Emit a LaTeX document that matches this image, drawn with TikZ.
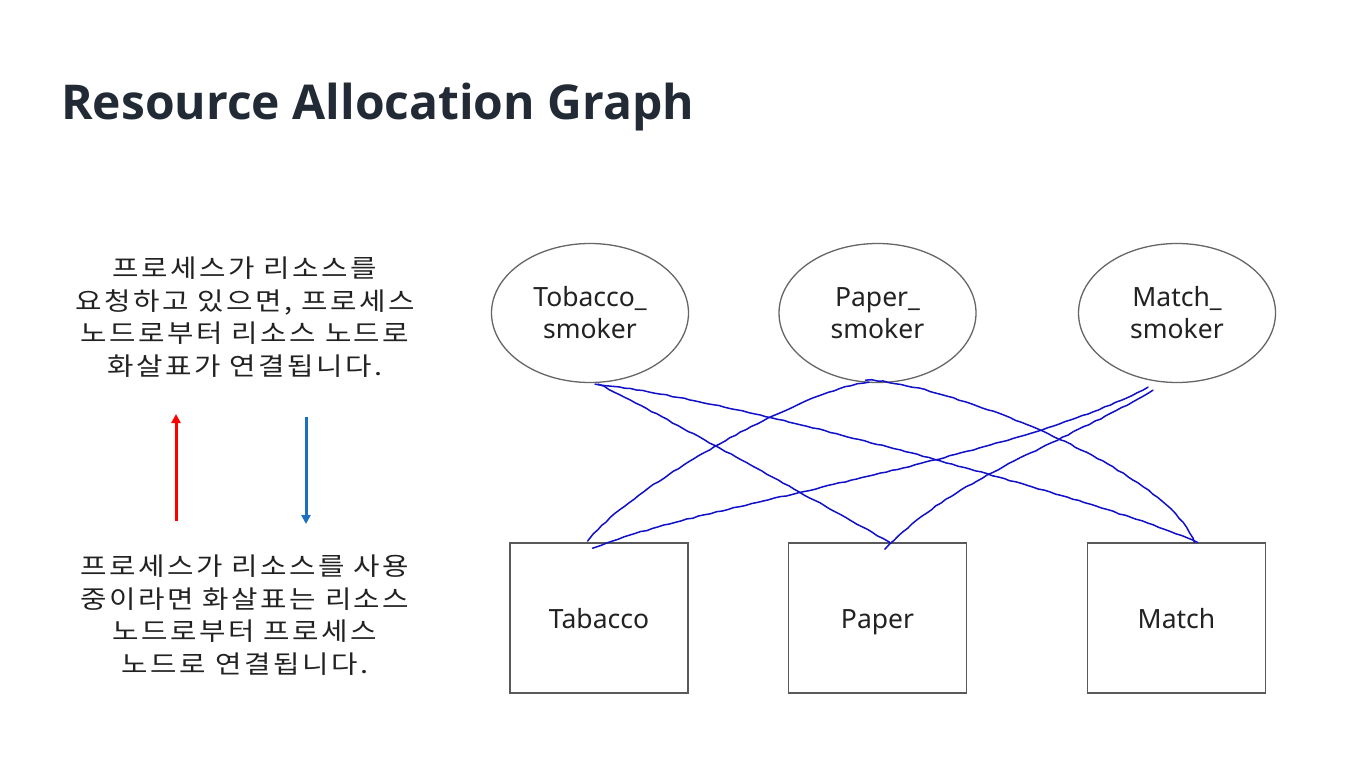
\documentclass[tikz,border=0pt]{standalone}
\usepackage{fontspec}
\setmainfont{Noto Sans}
\newfontfamily\titlefont{Open Sans}
\newfontfamily\kr{Noto Sans CJK KR}[FakeStretch=1.15, LetterSpace=10]
\usetikzlibrary{shapes.geometric,arrows.meta,calc,decorations.pathmorphing}

\definecolor{titlecol}{HTML}{222A35}
\definecolor{txtcol}{HTML}{222222}
\definecolor{edgecol}{HTML}{1010C8}
\definecolor{reqcol}{HTML}{FF0000}
\definecolor{asgcol}{HTML}{1A6FC0}

\tikzset{
  process/.style={ellipse, draw=black!60, line width=1.3pt, inner sep=0pt,
    minimum width=197pt, minimum height=139pt, align=center, text=txtcol,
    font=\fontsize{26.5}{32}\selectfont},
  resource/.style={rectangle, draw=black!65, line width=1.6pt, inner sep=0pt,
    minimum width=178pt, minimum height=150pt, text=txtcol,
    text height=20pt, text depth=0pt,
    font=\fontsize{26.5}{32}\selectfont},
  note/.style={align=center, text=txtcol, inner sep=0pt,
    font=\kr\fontsize{25}{32.7}\selectfont},
  flow/.style={draw=edgecol, line width=1.5pt, line cap=round, line join=round,
    decoration={random steps, segment length=6pt, amplitude=0.5pt},
    decorate},
  legendarrow/.style={line width=3pt, -{Triangle[length=9pt,width=9pt]}}
}

\begin{document}
\begin{tikzpicture}[x=1pt,y=-1pt]
  % canvas
  \fill[white] (0,0) rectangle (1372,775);
  \useasboundingbox (0,0) rectangle (1372,775);

  % heading
  \node[anchor=base west, inner sep=0pt, text=titlecol,
        font=\titlefont\bfseries\fontsize{48}{56}\selectfont] (title) at (61,120)
        {Resource Allocation Graph};

  % explanations
  \node[note] (reqtext) at (245,317)
    {프로세스가 리소스를\\요청하고 있으면, 프로세스\\노드로부터 리소스 노드로\\화살표가 연결됩니다.};
  \node[note] (asgtext) at (245,615)
    {프로세스가 리소스를 사용\\중이라면 화살표는 리소스\\노드로부터 프로세스\\노드로 연결됩니다.};

  % legend arrows
  \coordinate (reqfrom) at (176,521);
  \coordinate (reqto)   at (176,414);
  \coordinate (asgfrom) at (306,417);
  \coordinate (asgto)   at (306,524);
  \draw[legendarrow, draw=reqcol, fill=reqcol] (reqfrom) -- (reqto);
  \draw[legendarrow, draw=asgcol, fill=asgcol] (asgfrom) -- (asgto);

  % processes
  \node[process] (ts) at (590,313)    {Tobacco\_\\smoker};
  \node[process] (ps) at (877.5,313)  {Paper\_\\smoker};
  \node[process] (ms) at (1177,313)   {Match\_\\smoker};

  % resources
  \node[resource] (tb) at (599,618)    {Tabacco};
  \node[resource] (pb) at (877.5,618)  {Paper};
  \node[resource] (mb) at (1176.5,618) {Match};

  % edges
  \draw[flow] ($(ts.south)+(8,1)$)   .. controls +(27,11)   and +(-49,-28) .. ($(pb.north)+(12,0)$);
  \draw[flow] ($(ts.south)+(5,1)$)   .. controls +(120,11)  and +(-87,-40) .. ($(mb.north)+(20.5,0)$);
  \draw[flow] ($(ps.south)+(-8.5,-1)$) .. controls +(-69,8) and +(37,-51)  .. ($(tb.north)+(-11,-1)$);
  \draw[flow] ($(ps.south)+(-12,-3)$) .. controls +(74,0)   and +(-24,-72) .. ($(mb.north)+(17.5,0)$);
  \draw[flow] ($(ms.south)+(-29,4)$) .. controls +(-138,73) and +(107,-44) .. ($(tb.north)+(-6,6)$);
  \draw[flow] ($(ms.south)+(-24,7)$) .. controls +(-83,50)  and +(65,-70)  .. ($(pb.north)+(7.5,7)$);
\end{tikzpicture}
\end{document}
